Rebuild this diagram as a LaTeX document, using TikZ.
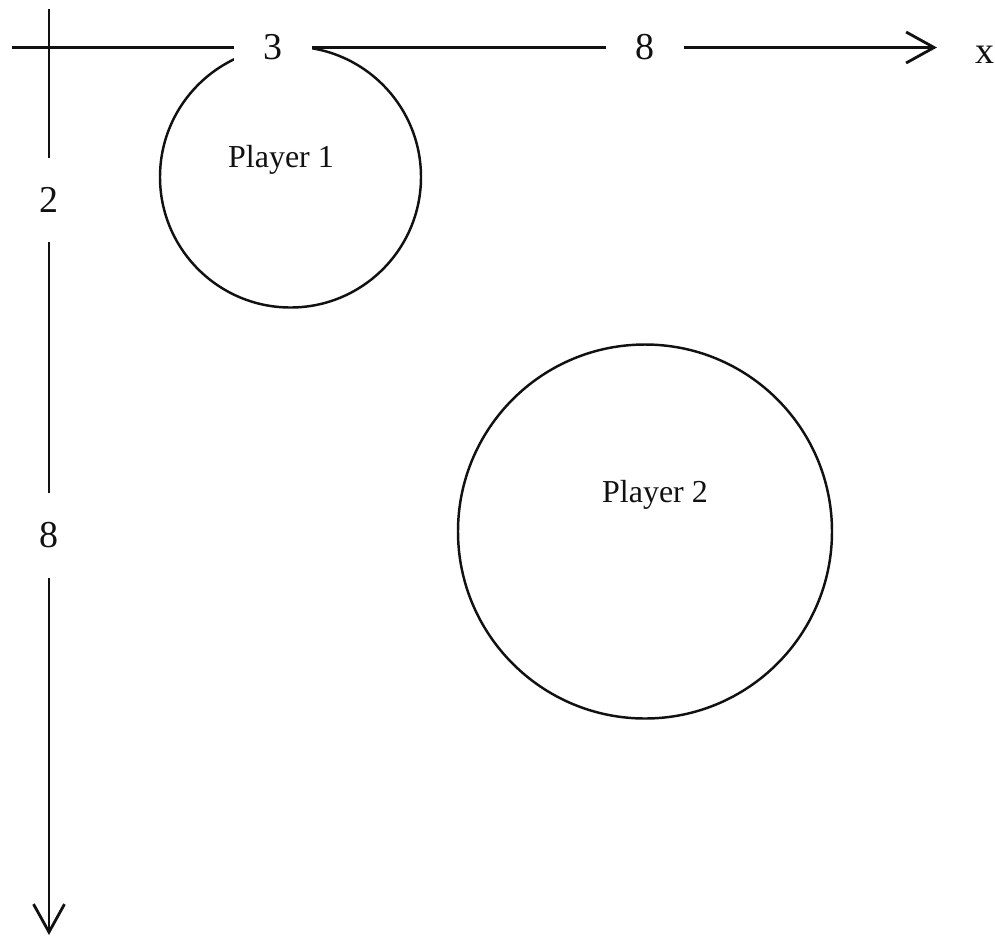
\documentclass[tikz,border=0pt]{standalone}
\usepackage{fontspec}
\setmainfont{Liberation Serif}
\usetikzlibrary{arrows.meta,positioning}
\definecolor{ink}{HTML}{111111}

\begin{document}
\begin{tikzpicture}[x=0.02cm, y=-0.02cm,
    every node/.style={text=ink},
    axislabel/.style={fill=white, inner sep=0.59cm, font=\fontsize{21.6}{26}\selectfont},
    playerlabel/.style={anchor=base, inner sep=0pt, font=\fontsize{18.2}{22}\selectfont},
    axisline/.style={draw=ink, line width=1.6pt},
    player/.style={draw=ink, line width=1.4pt}]
  \useasboundingbox (0,0) rectangle (995,938);
  % players
  \draw[player] (290.5,177) circle (130.5);
  \draw[player] (645,531.5) circle (187);
  \node[playerlabel] (p1) at (281,167) {Player 1};
  \node[playerlabel] (p2) at (655,502) {Player 2};
  % axes
  \coordinate (hstart) at (12,47.5);
  \coordinate (xend) at (937,47.5);
  \coordinate (vstart) at (49,9);
  \coordinate (yend) at (49,935);
  \node[axislabel] (lx3) at (273,47.5) {3};
  \node[axislabel] (lx8) at (645,47.5) {8};
  \node[axislabel] (ly2) at (49,200) {2};
  \node[axislabel] (ly8) at (49,535.5) {8};
  \draw[axisline] (hstart) -- (lx3);
  \draw[axisline] (lx3) -- (lx8);
  \draw[axisline, -{Straight Barb[length=0.56cm, width=0.62cm]}] (lx8) -- (xend);
  \draw[axisline] (vstart) -- (ly2);
  \draw[axisline] (ly2) -- (ly8);
  \draw[axisline, -{Straight Barb[length=0.56cm, width=0.62cm]}] (ly8) -- (yend);
  \node[anchor=base west, inner sep=0pt, font=\fontsize{21.6}{26}\selectfont] (xlabel) at (975,63) {x};
\end{tikzpicture}
\end{document}
